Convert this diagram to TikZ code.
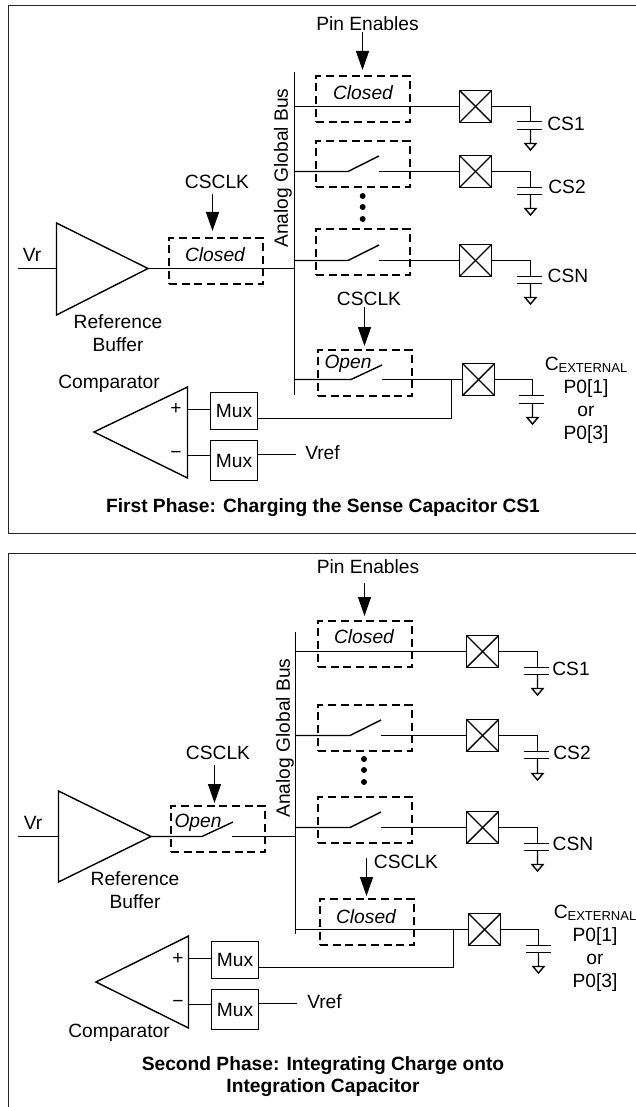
\documentclass[tikz,border=0pt]{standalone}
\usepackage{fontspec}
\setmainfont{Liberation Sans}
\usetikzlibrary{arrows.meta}
\tikzset{
  lab/.style={inner sep=0pt,font=\fontsize{19.2}{23}\selectfont,align=center},
  ilab/.style={inner sep=0pt,font=\fontsize{19.2}{23}\selectfont\itshape},
  blab/.style={inner sep=0pt,font=\fontsize{19.2}{22}\selectfont\bfseries,align=center},
  swbox/.style={draw,dashed,dash pattern=on 8pt off 4.7pt,line width=2pt,minimum width=94pt,minimum height=46pt,inner sep=0pt},
  muxbox/.style={draw,inner sep=0pt,minimum width=47pt,font=\fontsize{19.2}{23}\selectfont},
  padbox/.style={draw,inner sep=0pt,minimum size=32pt,path picture={\draw (path picture bounding box.north west) -- (path picture bounding box.south east);\draw (path picture bounding box.south west) -- (path picture bounding box.north east);}},
  sigarrow/.style={-{Triangle[length=19pt,width=13pt]}},
  dotmark/.style={circle,fill=black,inner sep=0pt,minimum size=6pt}
}
\begin{document}
\begin{tikzpicture}[x=1pt,y=-1pt,line width=1.4pt]
\useasboundingbox (0,0) rectangle (636,1107);
\draw[line width=1pt,black!85] (636,5.5) -- (8.5,5.5) -- (8.5,533.5) -- (636,533.5);
\draw[line width=1pt,black!85] (8.5,1107) -- (8.5,553.5) -- (636,553.5);

\node[lab] (pina) at (367.5,24) {Pin Enables};
\node[lab] (clkaa) at (217,182) {CSCLK};
\node[lab] (clkab) at (369,299) {CSCLK};
\node[lab] (vra) at (32,255) {Vr};
\node[lab] (refa) at (118,333.5) {Reference\\Buffer};
\node[lab] (compa) at (109,384) {Comparator};
\node[lab,rotate=90] (busa) at (283,168) {Analog Global Bus};
\node[ilab] (closa) at (215,254.5) {Closed};
\node[ilab] (closb) at (363,93) {Closed};
\node[ilab] (opena) at (348,364) {Open};
\node[swbox] (swa) at (216,261) {};
\node[swbox] (swb) at (363,99) {};
\node[swbox] (swc) at (363,164) {};
\node[swbox] (swd) at (363,252) {};
\node[swbox] (swe) at (365,373) {};
\node[padbox] (pada) at (475.5,106.5) {};
\node[padbox] (padb) at (475.5,171.5) {};
\node[padbox] (padc) at (475.5,260.5) {};
\node[padbox] (padd) at (478.5,379.5) {};
\node[muxbox,minimum height=37pt] (muxa) at (234,411) {Mux};
\node[muxbox,minimum height=40pt] (muxb) at (234,460.5) {Mux};
\node[lab] (vrefa) at (322.5,453) {Vref};
\node[lab] (csa) at (566,124) {CS1};
\node[lab] (csb) at (567,187) {CS2};
\node[lab] (csc) at (568,276) {CSN};
\node[lab] (exta) at (586,400.5) {C\raisebox{-2pt}{\fontsize{13}{13}\selectfont EXTERNAL}\\P0[1]\\or\\P0[3]};
\node[blab] (capa) at (323,508) {First Phase: Charging the Sense Capacitor CS1};
\node[lab] (plusa) at (176,409) {+};
\node[lab] (minusa) at (176,455) {\textminus};
\node[dotmark] (dota) at (362.7,196) {};
\node[dotmark] (dotb) at (362.7,207) {};
\node[dotmark] (dotc) at (362.7,219) {};

\draw (56.5,223) -- (56.5,315) -- (148,268.5) -- cycle;
\draw (187.5,387) -- (187.5,478) -- (94,432) -- cycle;
\coordinate (inaa) at (18,268.5);
\coordinate (inab) at (56.5,268.5);
\coordinate (tipa) at (148,268.5);
\coordinate (busat) at (294.5,72);
\coordinate (busab) at (294.5,395);
\coordinate (busam) at (294.5,268.5);
\coordinate (busaa) at (294.5,106.5);
\coordinate (busac) at (294.5,171.5);
\coordinate (busad) at (294.5,260.5);
\coordinate (busae) at (294.5,379.5);
\draw (inaa) -- (inab);
\draw (tipa) -- (busam);
\draw (busat) -- (busab);
\draw (busaa) -- (pada.west);
\draw (busac) -- (348,171.5) -- (379,156);
\draw (379,171.5) -- (padb.west);
\draw (busad) -- (348,260.5) -- (379,245);
\draw (379,260.5) -- (padc.west);
\draw (busae) -- (351,379.5) -- (382,365);
\draw (382,379.5) -- (padd.west);
\coordinate (juna) at (451.5,379.5);
\draw (juna) |- (muxa.east |- 0,418.5);
\draw (187.5,409.5) -- (muxa.west |- 0,409.5);
\draw (187.5,455.5) -- (muxb.west |- 0,455.5);
\coordinate (refouta) at (296,454.5);
\draw (muxb.east |- refouta) -- (refouta);
\coordinate (pinaa) at (362.5,32);
\coordinate (pinab) at (362.5,70);
\draw[sigarrow] (pinaa) -- (pinab);
\coordinate (clkaaa) at (212.5,194);
\coordinate (clkaab) at (212.5,231);
\draw[sigarrow] (clkaaa) -- (clkaab);
\coordinate (clkaba) at (364.5,307);
\coordinate (clkabb) at (364.5,346);
\draw[sigarrow] (clkaba) -- (clkabb);
\draw (pada.east) -| (530.5,121.5);
\draw (517,121.5) -- (542,121.5) (517,129.5) -- (542,129.5);
\draw (530.5,129.5) -- (530.5,143.5) (525,143.5) -- (536,143.5) -- (530.5,150) -- cycle;
\draw (padb.east) -| (530.5,187.5);
\draw (517,187.5) -- (542,187.5) (517,194.5) -- (542,194.5);
\draw (530.5,194.5) -- (530.5,208.5) (525,208.5) -- (536,208.5) -- (530.5,215) -- cycle;
\draw (padc.east) -| (530.5,276.5);
\draw (517,276.5) -- (542,276.5) (517,283.5) -- (542,283.5);
\draw (530.5,283.5) -- (530.5,297.5) (525,297.5) -- (536,297.5) -- (530.5,304) -- cycle;
\draw (padd.east) -| (532.5,395.5);
\draw (519,395.5) -- (544,395.5) (519,403.5) -- (544,403.5);
\draw (532.5,403.5) -- (532.5,417.5) (527,417.5) -- (538,417.5) -- (532.5,424) -- cycle;

\node[lab] (pinb) at (368,567) {Pin Enables};
\node[lab] (clkba) at (218,753) {CSCLK};
\node[lab] (clkbb) at (406,862) {CSCLK};
\node[lab] (vrb) at (33,823) {Vr};
\node[lab] (refb) at (135,890.5) {Reference\\Buffer};
\node[lab] (compb) at (119,1033) {Comparator};
\node[lab,rotate=90] (busb) at (285,738) {Analog Global Bus};
\node[ilab] (openb) at (198,823) {Open};
\node[ilab] (closc) at (364,637) {Closed};
\node[ilab] (closd) at (366,917) {Closed};
\node[swbox] (swf) at (218,829) {};
\node[swbox] (swg) at (365,644) {};
\node[swbox] (swh) at (365,728) {};
\node[swbox] (swi) at (365,820) {};
\node[swbox] (swj) at (367,922) {};
\node[padbox] (pade) at (482.5,651.5) {};
\node[padbox] (padf) at (482.5,735.5) {};
\node[padbox] (padg) at (482.5,827.5) {};
\node[padbox] (padh) at (484.5,929.5) {};
\node[muxbox,minimum height=37pt] (muxc) at (235,960) {Mux};
\node[muxbox,minimum height=40pt] (muxd) at (235,1009.5) {Mux};
\node[lab] (vrefb) at (324.5,1002) {Vref};
\node[lab] (csd) at (571,669) {CS1};
\node[lab] (cse) at (572,753) {CS2};
\node[lab] (csf) at (573,844) {CSN};
\node[lab] (extb) at (595,948.5) {C\raisebox{-2pt}{\fontsize{13}{13}\selectfont EXTERNAL}\\P0[1]\\or\\P0[3]};
\node[blab] (capb) at (323,1077) {Second Phase: Integrating Charge onto\\Integration Capacitor};
\node[lab] (plusb) at (178,959) {+};
\node[lab] (minusb) at (178,1004) {\textminus};
\node[dotmark] (dotd) at (364,759) {};
\node[dotmark] (dote) at (364,770) {};
\node[dotmark] (dotf) at (364,782) {};

\draw (58.5,791) -- (58.5,882) -- (151,836.5) -- cycle;
\draw (188.5,936) -- (188.5,1028) -- (96,982) -- cycle;
\coordinate (inba) at (18,836.5);
\coordinate (inbb) at (58.5,836.5);
\coordinate (tipb) at (151,836.5);
\coordinate (busbt) at (295.5,632);
\coordinate (busbb) at (295.5,934);
\coordinate (busbm) at (295.5,836.5);
\coordinate (busba) at (295.5,651.5);
\coordinate (busbc) at (295.5,735.5);
\coordinate (busbd) at (295.5,827.5);
\coordinate (busbe) at (295.5,929.5);
\draw (inba) -- (inbb);
\draw (tipb) -- (202,836.5) -- (233,822);
\draw (232,836.5) -- (busbm);
\draw (busbt) -- (busbb);
\draw (busba) -- (pade.west);
\draw (busbc) -- (350,735.5) -- (381,720);
\draw (381,735.5) -- (padf.west);
\draw (busbd) -- (350,827.5) -- (381,812);
\draw (381,827.5) -- (padg.west);
\draw (busbe) -- (padh.west);
\coordinate (junb) at (453.5,929.5);
\draw (junb) |- (muxc.east |- 0,967.5);
\draw (188.5,958.5) -- (muxc.west |- 0,958.5);
\draw (188.5,1004.5) -- (muxd.west |- 0,1004.5);
\coordinate (refoutb) at (297,1003.5);
\draw (muxd.east |- refoutb) -- (refoutb);
\coordinate (pinba) at (364.5,583);
\coordinate (pinbb) at (364.5,616);
\draw[sigarrow] (pinba) -- (pinbb);
\coordinate (clkbaa) at (214.5,765);
\coordinate (clkbab) at (214.5,803);
\draw[sigarrow] (clkbaa) -- (clkbab);
\coordinate (clkbba) at (366.5,858);
\coordinate (clkbbb) at (366.5,896);
\draw[sigarrow] (clkbba) -- (clkbbb);
\draw (pade.east) -| (537.5,667.5);
\draw (524,667.5) -- (549,667.5) (524,674.5) -- (549,674.5);
\draw (537.5,674.5) -- (537.5,688.5) (532,688.5) -- (543,688.5) -- (537.5,695) -- cycle;
\draw (padf.east) -| (537.5,751.5);
\draw (524,751.5) -- (549,751.5) (524,758.5) -- (549,758.5);
\draw (537.5,758.5) -- (537.5,773.5) (532,773.5) -- (543,773.5) -- (537.5,780) -- cycle;
\draw (padg.east) -| (537.5,843.5);
\draw (524,843.5) -- (549,843.5) (524,850.5) -- (549,850.5);
\draw (537.5,850.5) -- (537.5,864.5) (532,864.5) -- (543,864.5) -- (537.5,871) -- cycle;
\draw (padh.east) -| (538.5,945.5);
\draw (526,945.5) -- (551,945.5) (526,952.5) -- (551,952.5);
\draw (538.5,952.5) -- (538.5,966.5) (533,966.5) -- (544,966.5) -- (538.5,973) -- cycle;
\end{tikzpicture}
\end{document}
